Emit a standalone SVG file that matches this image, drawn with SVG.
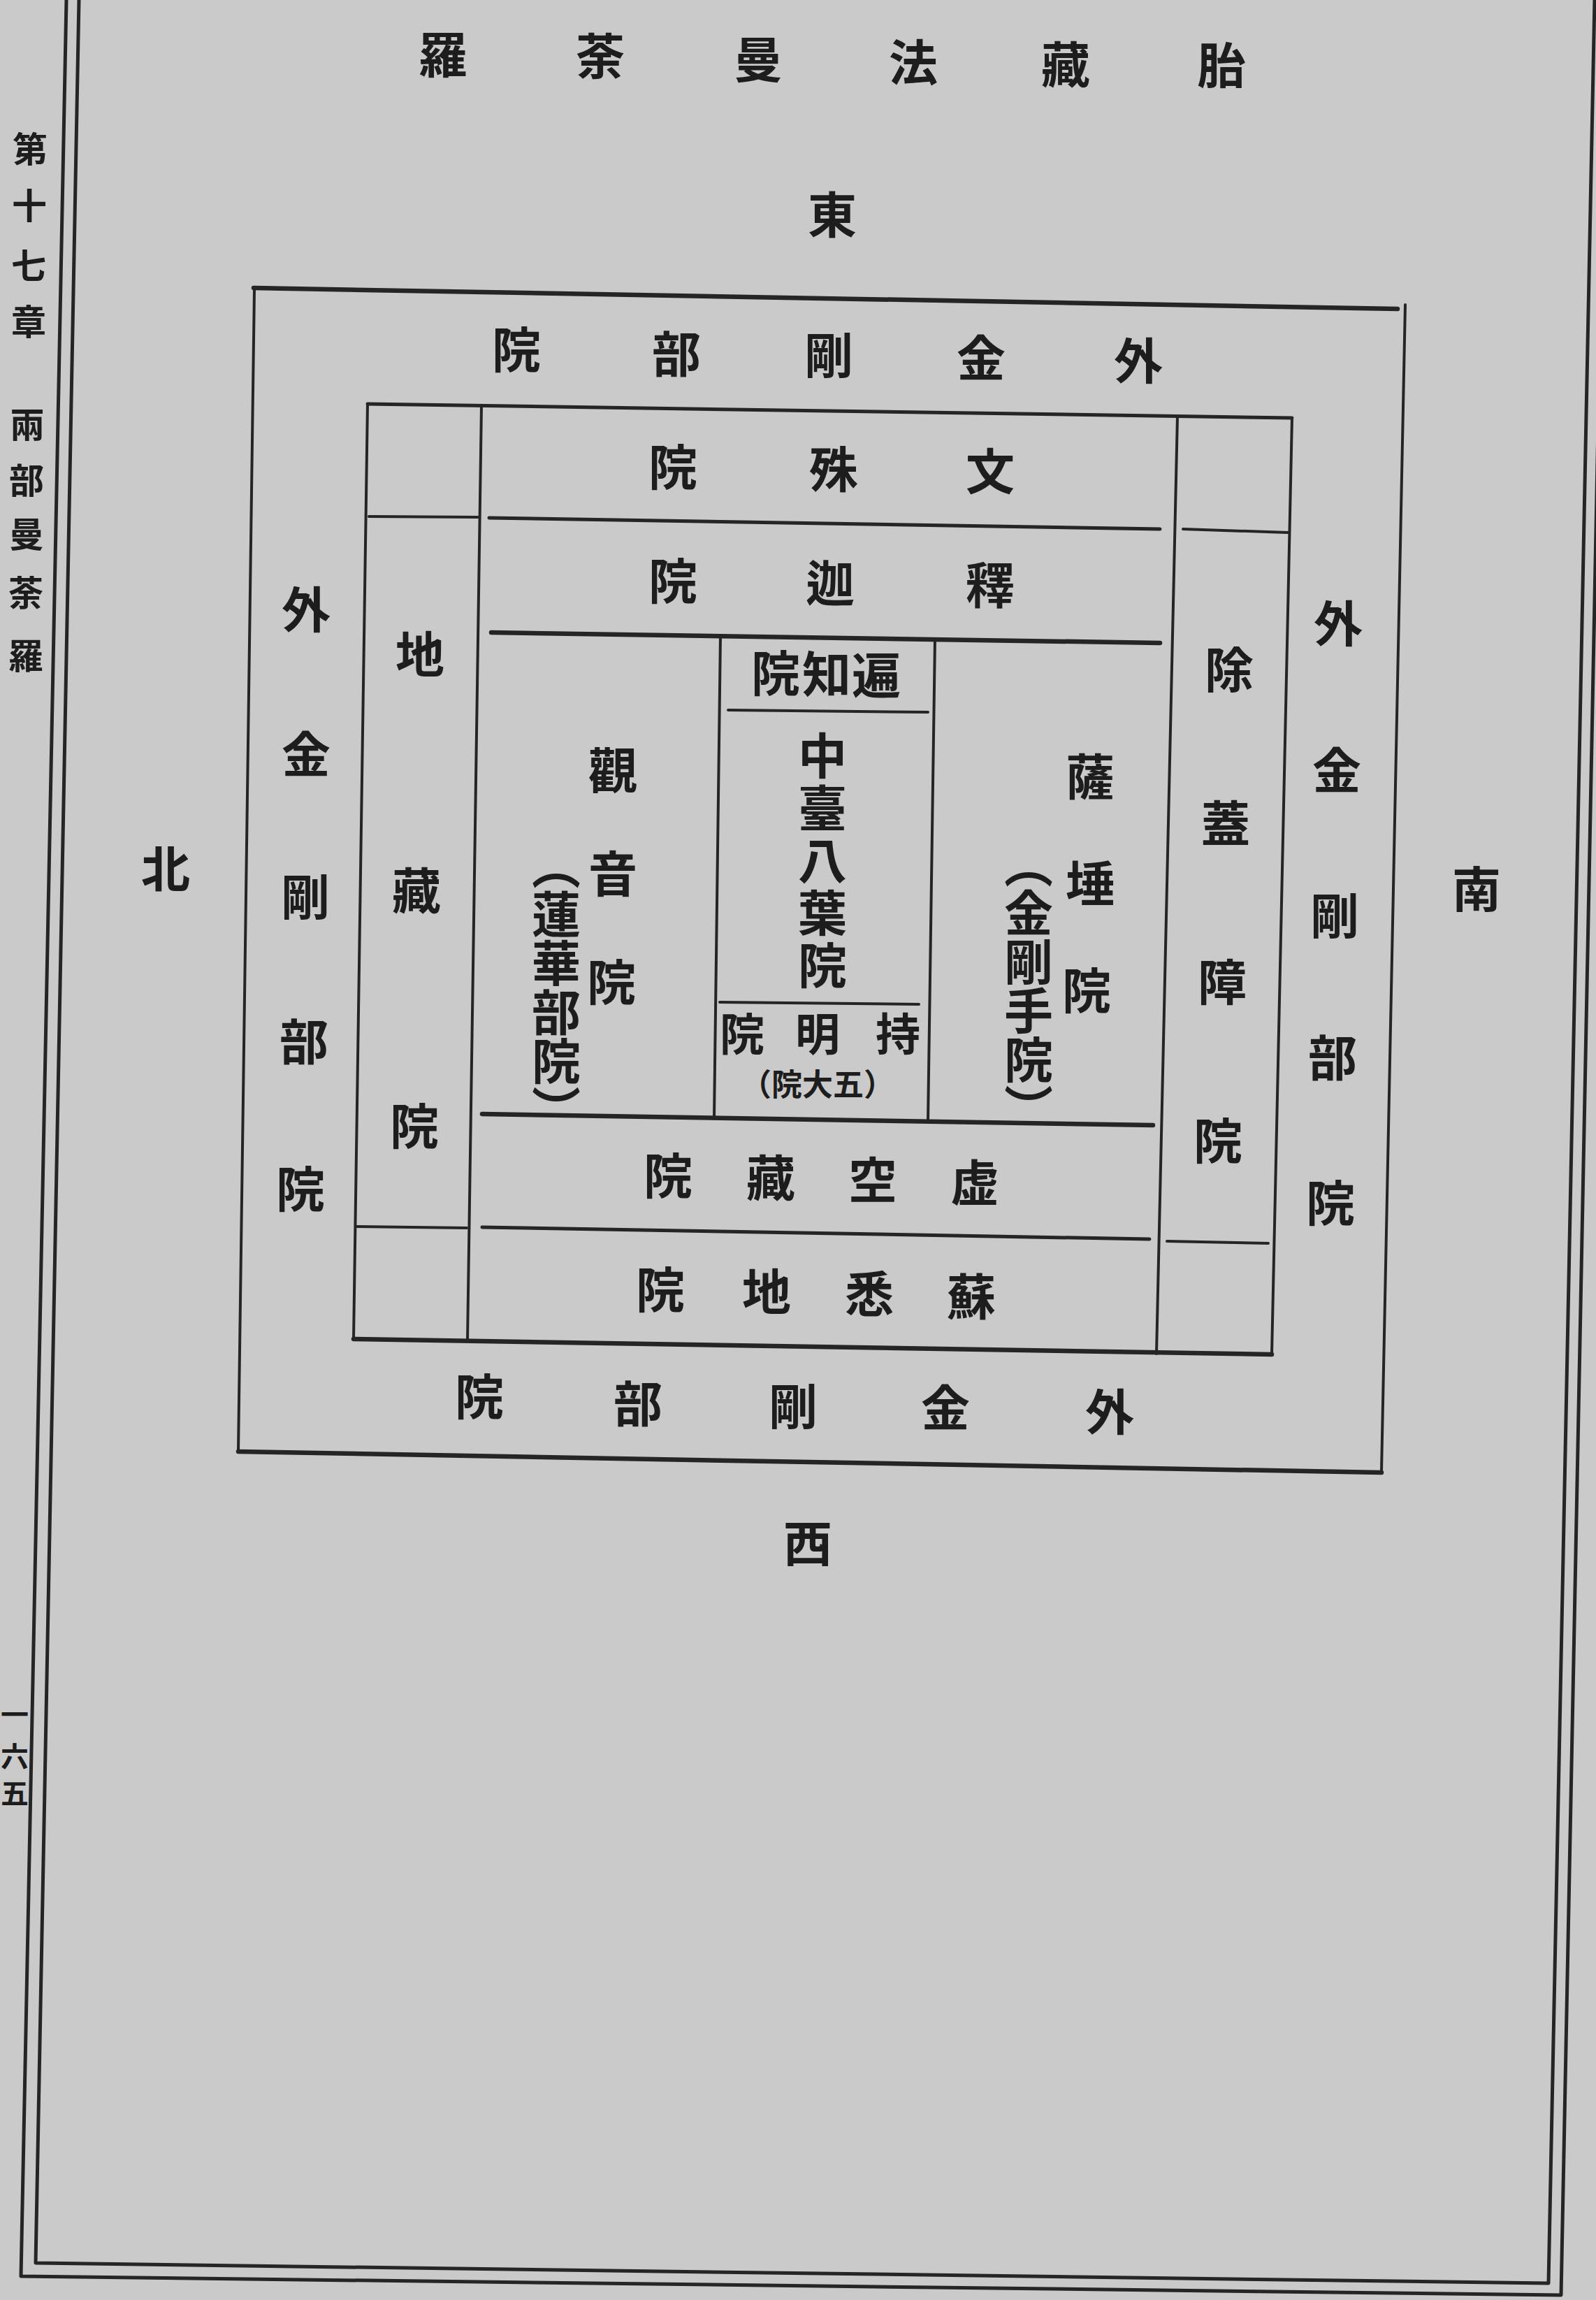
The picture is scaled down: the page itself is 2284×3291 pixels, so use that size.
<svg xmlns="http://www.w3.org/2000/svg" width="2284" height="3291" viewBox="0 0 2284 3291">
<style>
.ln{stroke:#252525;fill:none;stroke-linecap:round;stroke-linejoin:round}
.w4{stroke-width:4}
.w5{stroke-width:5}
.w6{stroke-width:6.5}
.t{font-family:"Noto Sans CJK JP","Noto Sans CJK TC",sans-serif;font-weight:700;fill:#1d1d1d;text-anchor:middle}
.v{font-family:"Noto Sans CJK JP","Noto Sans CJK TC",sans-serif;font-weight:700;fill:#1d1d1d;writing-mode:vertical-rl;text-anchor:start}
.f70{font-size:70px}
.f64{font-size:64px}
.f44{font-size:44px}
.f50{font-size:50px}
.f40{font-size:40px}
</style>
<rect x="0" y="0" width="2284" height="3291" fill="#cacaca"/>

<g id="page-border">
<polyline class="ln w5" points="95,0 30,3257 2234,3284 2299,0"/>
<polyline class="ln w5" points="113,0 51,3238 2216,3267 2282,0"/>
</g>

<g id="margin-header" class="t f50">
<text x="43" y="232">第</text>
<text x="42" y="313">十</text>
<text x="41" y="399">七</text>
<text x="41" y="479">章</text>
<text x="39" y="626">兩</text>
<text x="38" y="706">部</text>
<text x="38" y="783">曼</text>
<text x="37" y="867">荼</text>
<text x="37" y="957">羅</text>
</g>

<g id="page-number" class="t f40">
<text x="21" y="2468">一</text>
<text x="21" y="2528">六</text>
<text x="21" y="2581">五</text>
</g>

<g id="title" class="t f70">
<text x="634" y="105">羅</text>
<text x="859" y="107">荼</text>
<text x="1085" y="112">曼</text>
<text x="1307" y="116">法</text>
<text x="1525" y="119">藏</text>
<text x="1748" y="120">胎</text>
</g>

<g id="dir-east" class="t f70"><text x="1191" y="334">東</text></g>
<g id="dir-west" class="t f70"><text x="1156" y="2235">西</text></g>
<g id="dir-north" class="t f70"><text x="237" y="1270">北</text></g>
<g id="dir-south" class="t f70"><text x="2113" y="1299">南</text></g>

<g id="frame-lines">
<!-- outer ring 外金剛部院 -->
<line class="ln w6" x1="363" y1="412" x2="2000" y2="442"/>
<line class="ln w4" x1="364" y1="414" x2="341" y2="2077"/>
<line class="ln w4" x1="2011" y1="436" x2="1977" y2="2106"/>
<line class="ln w6" x1="341" y1="2077" x2="1977" y2="2107"/>
<!-- second box -->
<line class="ln w5" x1="526" y1="578" x2="1849" y2="598"/>
<line class="ln w4" x1="526" y1="578" x2="506" y2="1916"/>
<line class="ln w4" x1="1849" y1="598" x2="1820" y2="1938"/>
<line class="ln w6" x1="506" y1="1916" x2="1820" y2="1938"/>
<!-- inner column lines -->
<line class="ln w4" x1="689" y1="581" x2="669" y2="1918"/>
<line class="ln w4" x1="1685" y1="596" x2="1655" y2="1937"/>
<!-- side column dividers -->
<line class="ln w4" x1="528" y1="739" x2="684" y2="740"/>
<line class="ln w4" x1="510" y1="1755" x2="668" y2="1757"/>
<line class="ln w4" x1="1693" y1="757" x2="1843" y2="762"/>
<line class="ln w4" x1="1670" y1="1776" x2="1815" y2="1779"/>
<!-- horizontal partitions -->
<line class="ln w5" x1="700" y1="741" x2="1660" y2="757"/>
<line class="ln w6" x1="703" y1="905" x2="1660" y2="920"/>
<line class="ln w6" x1="690" y1="1594" x2="1650" y2="1610"/>
<line class="ln w5" x1="690" y1="1756" x2="1645" y2="1773"/>
<!-- centre column -->
<line class="ln w4" x1="1031" y1="910" x2="1022" y2="1600"/>
<line class="ln w4" x1="1338" y1="915" x2="1328" y2="1605"/>
<line class="ln w4" x1="1042" y1="1016" x2="1328" y2="1019"/>
<line class="ln w4" x1="1030" y1="1434" x2="1315" y2="1437"/>
</g>

<g id="outer-top" class="t f70">
<text x="739" y="527">院</text>
<text x="968" y="533">部</text>
<text x="1186" y="535">剛</text>
<text x="1404" y="539">金</text>
<text x="1629" y="543">外</text>
</g>

<g id="outer-bottom" class="t f70">
<text x="686" y="2025">院</text>
<text x="913" y="2035">部</text>
<text x="1135" y="2039">剛</text>
<text x="1353" y="2041">金</text>
<text x="1588" y="2047">外</text>
</g>

<g id="outer-left" class="t f70">
<text x="438" y="899">外</text>
<text x="438" y="1106">金</text>
<text x="437" y="1310">剛</text>
<text x="435" y="1517">部</text>
<text x="430" y="1728">院</text>
</g>

<g id="outer-right" class="t f70">
<text x="1915" y="919">外</text>
<text x="1913" y="1129">金</text>
<text x="1910" y="1337">剛</text>
<text x="1907" y="1540">部</text>
<text x="1904" y="1748">院</text>
</g>

<g id="jizo" class="t f70">
<text x="601" y="963">地</text>
<text x="596" y="1301">藏</text>
<text x="593" y="1638">院</text>
</g>

<g id="jogaisho" class="t f70">
<text x="1759" y="985">除</text>
<text x="1754" y="1205">蓋</text>
<text x="1749" y="1432">障</text>
<text x="1743" y="1659">院</text>
</g>

<g id="monju" class="t f70">
<text x="963" y="695">院</text>
<text x="1193" y="698">殊</text>
<text x="1417" y="701">文</text>
</g>

<g id="shaka" class="t f70">
<text x="963" y="858">院</text>
<text x="1188" y="861">迦</text>
<text x="1417" y="864">釋</text>
</g>

<g id="henchi" class="t f70">
<text x="1110" y="990">院</text>
<text x="1183" y="991">知</text>
<text x="1254" y="993">遍</text>
</g>

<g id="chudai">
<text class="v f70" x="1177" y="1046" letter-spacing="5">中臺八葉院</text>
</g>

<g id="jimyo">
<text class="t f64" x="1062" y="1503">院</text>
<text class="t f64" x="1170" y="1503">明</text>
<text class="t f64" x="1285" y="1503">持</text>
<text class="t f44" x="1170" y="1568">（院大五）</text>
</g>

<g id="kannon">
<text class="t f70" x="877" y="1129">觀</text>
<text class="t f70" x="877" y="1277">音</text>
<text class="t f70" x="875" y="1432">院</text>
<text class="v f70" x="796" y="1203">（蓮華部院）</text>
</g>

<g id="satta">
<text class="t f70" x="1560" y="1138">薩</text>
<text class="t f70" x="1560" y="1291">埵</text>
<text class="t f70" x="1555" y="1444">院</text>
<text class="v f70" x="1472" y="1201">（金剛手院）</text>
</g>

<g id="kokuzo" class="t f70">
<text x="956" y="1709">院</text>
<text x="1103" y="1712">藏</text>
<text x="1249" y="1715">空</text>
<text x="1395" y="1719">虚</text>
</g>

<g id="soshitsuji" class="t f70">
<text x="945" y="1872">院</text>
<text x="1097" y="1875">地</text>
<text x="1244" y="1878">悉</text>
<text x="1390" y="1882">蘇</text>
</g>
</svg>
